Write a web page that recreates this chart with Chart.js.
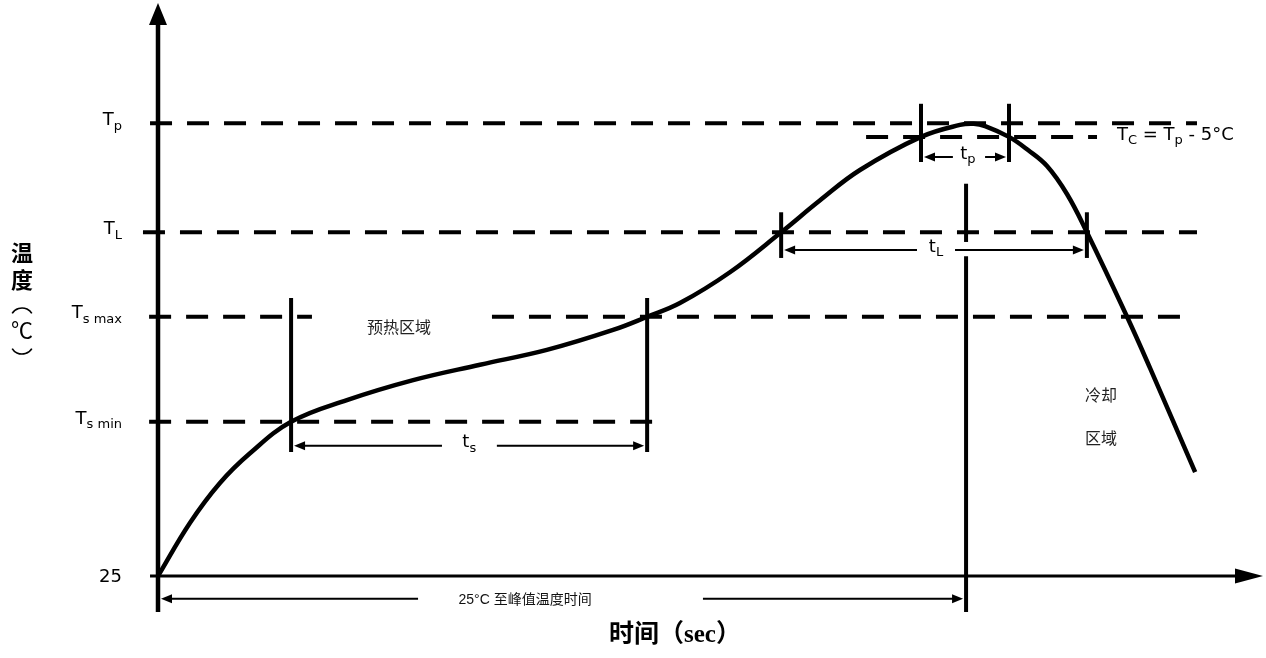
<!DOCTYPE html>
<html>
<head>
<meta charset="utf-8">
<script src="https://cdn.jsdelivr.net/npm/chart.js@4.4.1/dist/chart.umd.min.js"></script>
<style>
  html, body { margin: 0; padding: 0; background: #fff; }
  #wrap { width: 1266px; height: 658px; position: relative; }
</style>
</head>
<body>
<div id="wrap"><canvas id="profileChart"></canvas></div>
<script>
// reflow profile: time (s) vs relative temperature level (0 = 25°C, 100 = top of axis)
const timeSec = [0, 10.4, 20.2, 30.0, 43.4, 61.6, 83.2, 105.0, 126.8, 148.4, 159.5, 170.2, 186.5,
  203.2, 215.9, 228.9, 248.8, 261.5, 266.0, 269.7, 277.5, 283.7, 289.9, 296.4, 302.9, 316.0, 323.5, 338.2];
const tempLevel = [0, 9.3, 16.3, 21.5, 27.0, 30.8, 34.3, 37.0, 39.6, 43.1, 45.4, 47.8, 53.2,
  60.2, 65.8, 71.1, 76.9, 79.0, 79.2, 78.8, 76.9, 74.6, 71.8, 66.9, 60.2, 45.4, 36.4, 18.2];

// temperature levels shown on the left
const levelMain = ['T', 'T', 'T', 'T', '25'];
const levelSub = ['p', 'L', 's max', 's min', ''];
const levelValue = [79.3, 60.2, 45.4, 27.0, 0];

// dashed guide lines (level, start time, end time)
const guideLevel = [79.3, 76.9, 60.2, 45.4, 45.4, 27.0];
const guideFrom = [-2.6, 230.9, -4.9, -2.9, 108.9, -2.9];
const guideTo = [338.8, 306.2, 338.8, 50.2, 333.9, 164.3];

// solid vertical markers (time, low level, high level)
const markTime = [43.4, 159.5, 203.2, 302.9, 248.8, 277.5, 263.5, 263.5];
const markLow = [21.7, 21.7, 55.7, 55.7, 72.5, 72.5, 58.5, -6.3];
const markHigh = [48.7, 48.7, 63.7, 63.7, 82.7, 82.7, 68.7, 56.0];

// dimension arrows
const spanMain = ['t', 't', 't', '25°C 至峰值温度时间'];
const spanSub = ['s', 'L', 'p', ''];
const spanFrom = [43.4, 203.2, 248.8, 0];
const spanTo = [159.5, 302.9, 277.5, 263.5];
const spanLevel = [22.8, 57.1, 73.4, -4.0];
const spanGapFrom = [92.6, 247.5, 259.2, 84.8];
const spanGapTo = [110.5, 259.9, 269.7, 177.7];
const spanLabelAt = [101.5, 253.7, 264.1, 119.7];

// zone captions
const zoneText = ['预热区域', '冷却', '区域'];
const zoneTime = [78.6, 307.5, 307.5];
const zoneLevel = [43.6, 31.7, 24.2];

const LATIN = '"DejaVu Sans", sans-serif';
const CJK = '"Noto Sans CJK SC", sans-serif';

function line(pts, width, dash) {
  return {
    data: pts,
    borderColor: '#000',
    borderWidth: width,
    borderDash: dash || [],
    pointRadius: 0,
    clip: false,
    tension: 0
  };
}

const datasets = [];
datasets.push({
  data: timeSec.map((t, i) => ({ x: t, y: tempLevel[i] })),
  borderColor: '#000',
  borderWidth: 4.5,
  pointRadius: 0,
  tension: 0.4,
  clip: false
});
guideLevel.forEach((lv, i) => {
  datasets.push(line([{ x: guideFrom[i], y: lv }, { x: guideTo[i], y: lv }], 4, [22, 15]));
});
markTime.forEach((t, i) => {
  datasets.push(line([{ x: t, y: markLow[i] }, { x: t, y: markHigh[i] }], 4));
});
// axes
datasets.push(line([{ x: 0, y: -6.3 }, { x: 0, y: 96.5 }], 4.5));
datasets.push(line([{ x: -2.6, y: 0 }, { x: 352.8, y: 0 }], 3));

// draws text with subscript pieces; segs = [[text, isSub], ...]
function drawRich(ctx, segs, x, y, align, size, subSize) {
  const widths = segs.map(s => {
    ctx.font = (s[1] ? subSize : size) + 'px ' + LATIN;
    return ctx.measureText(s[0]).width;
  });
  const total = widths.reduce((a, b) => a + b, 0);
  let cx = align === 'right' ? x - total : align === 'center' ? x - total / 2 : x;
  ctx.textAlign = 'left';
  ctx.textBaseline = 'middle';
  segs.forEach((s, i) => {
    ctx.font = (s[1] ? subSize : size) + 'px ' + LATIN;
    ctx.fillText(s[0], cx, s[1] ? y + 6 : y);
    cx += widths[i];
  });
}

function head(ctx, x, y, dx, dy, len, half) {
  ctx.beginPath();
  ctx.moveTo(x, y);
  ctx.lineTo(x - dx * len - dy * half, y - dy * len - dx * half);
  ctx.lineTo(x - dx * len + dy * half, y - dy * len + dx * half);
  ctx.closePath();
  ctx.fill();
}

const annotations = {
  id: 'annotations',
  afterDatasetsDraw(chart) {
    const ctx = chart.ctx;
    const xs = chart.scales.x, ys = chart.scales.y;
    const area = chart.chartArea;
    ctx.save();
    ctx.fillStyle = '#000';
    ctx.strokeStyle = '#000';

    // axis arrow heads
    head(ctx, xs.getPixelForValue(0), area.top - 2, 0, -1, 22, 9);
    head(ctx, area.right + 1, ys.getPixelForValue(0), 1, 0, 28, 7.5);

    // level labels
    levelMain.forEach((m, i) => {
      const y = ys.getPixelForValue(levelValue[i]);
      const segs = levelSub[i] ? [[m, false], [levelSub[i], true]] : [[m, false]];
      drawRich(ctx, segs, area.left - 36, y - 3 + (levelSub[i] ? 0 : 4), 'right', 18, 13);
    });

    // Tc caption
    drawRich(ctx, [['T', false], ['C', true], [' = T', false], ['p', true], [' - 5°C', false]],
      xs.getPixelForValue(312.7), ys.getPixelForValue(guideLevel[1]) - 2, 'left', 18, 13);

    // dimension arrows
    ctx.lineWidth = 2;
    spanMain.forEach((m, i) => {
      const y = ys.getPixelForValue(spanLevel[i]);
      const x0 = xs.getPixelForValue(spanFrom[i]) + 3;
      const x1 = xs.getPixelForValue(spanTo[i]) - 3;
      const g0 = xs.getPixelForValue(spanGapFrom[i]);
      const g1 = xs.getPixelForValue(spanGapTo[i]);
      ctx.beginPath();
      ctx.moveTo(x0 + 8, y); ctx.lineTo(g0, y);
      ctx.moveTo(g1, y); ctx.lineTo(x1 - 8, y);
      ctx.stroke();
      head(ctx, x0, y, -1, 0, 11, 4.5);
      head(ctx, x1, y, 1, 0, 11, 4.5);
      const lx = xs.getPixelForValue(spanLabelAt[i]);
      if (spanSub[i]) {
        drawRich(ctx, [[m, false], [spanSub[i], true]], lx, y - 3, 'center', 18, 13);
      } else {
        ctx.font = '14px "Liberation Sans", ' + CJK;
        ctx.textAlign = 'center';
        ctx.textBaseline = 'middle';
        ctx.fillStyle = '#111';
        ctx.fillText(m, lx, y + 1);
        ctx.fillStyle = '#000';
      }
    });

    // zone captions
    ctx.font = '16px ' + CJK;
    ctx.fillStyle = '#222';
    ctx.textAlign = 'center';
    ctx.textBaseline = 'middle';
    zoneText.forEach((z, i) => {
      ctx.fillText(z, xs.getPixelForValue(zoneTime[i]), ys.getPixelForValue(zoneLevel[i]));
    });

    // x axis title
    ctx.fillStyle = '#000';
    ctx.font = 'bold 25px "Liberation Serif", ' + CJK;
    ctx.fillText('时间（sec）', (area.left + area.right) / 2 - 35, area.bottom + 60);

    // y axis title, stacked vertically with vertical-form brackets
    const tx = 22;
    ctx.font = 'bold 22px ' + CJK;
    ctx.fillText('温', tx, 253);
    ctx.fillText('度', tx, 280);
    ctx.font = '22px ' + CJK;
    ctx.fillText('℃', tx, 330);
    ctx.lineWidth = 1.6;
    ctx.beginPath();
    ctx.ellipse(tx, 318, 11, 10, 0, Math.PI * 1.15, Math.PI * 1.85);
    ctx.stroke();
    ctx.beginPath();
    ctx.ellipse(tx, 344, 11, 10, 0, Math.PI * 0.15, Math.PI * 0.85);
    ctx.stroke();
    ctx.restore();
  }
};

new Chart(document.getElementById('profileChart'), {
  type: 'line',
  data: { datasets },
  options: {
    responsive: true,
    maintainAspectRatio: false,
    animation: false,
    events: [],
    layout: { padding: { left: 158, right: 4, top: 5, bottom: 82 } },
    scales: {
      x: { type: 'linear', min: 0, max: 360, display: false },
      y: { type: 'linear', min: 0, max: 100, display: false }
    },
    plugins: { legend: { display: false }, tooltip: { enabled: false } }
  },
  plugins: [annotations]
});
</script>
</body>
</html>
